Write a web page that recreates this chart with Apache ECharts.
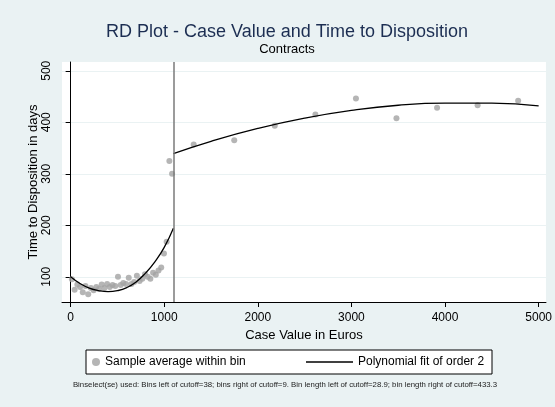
<!DOCTYPE html>
<html>
<head>
<meta charset="utf-8">
<script src="https://cdn.jsdelivr.net/npm/echarts@6/dist/echarts.min.js"></script>
<style>
  html, body { margin: 0; padding: 0; background: #eaf2f3; }
  #chart { width: 555px; height: 407px; }
</style>
</head>
<body>
<div id="chart"></div>
<script>
// bin averages left of the cutoff
const leftX = [14, 43, 72, 101, 130, 159, 188, 217, 246, 275, 303, 332, 361, 390, 419, 448, 477, 506, 535,
  563, 592, 621, 650, 679, 708, 737, 766, 795, 823, 852, 881, 910, 939, 968, 997, 1026, 1055, 1084];
const leftY = [95, 75, 85, 80, 70, 82, 66, 78, 74, 80, 76, 85, 78, 86, 80, 84, 82, 100, 84,
  88, 86, 98, 86, 90, 102, 92, 96, 105, 100, 96, 108, 104, 112, 118, 145, 168, 325, 300];

// bin averages right of the cutoff
const rightX = [1315, 1748, 2181, 2615, 3048, 3481, 3915, 4348, 4781];
const rightY = [357, 365, 393, 415, 446, 408, 428, 433, 442];

// polynomial fit
const fitLeftX = [0, 100, 200, 300, 400, 500, 600, 700, 800, 900, 1000, 1098];
const fitLeftY = [100, 87, 78, 73, 71, 73, 79, 90, 107, 129, 157, 194];
const fitRightX = [1098, 1500, 2000, 2500, 3000, 3500, 4000, 4500, 5000];
const fitRightY = [339, 363, 388, 408, 423, 433, 437, 437, 432];

const cutoff = 1098;
const xTicks = [0, 1000, 2000, 3000, 4000, 5000];
const yTicks = [100, 200, 300, 400, 500];

const pts = (xs, ys) => xs.map((x, i) => [x, ys[i]]);

const chart = echarts.init(document.getElementById('chart'), null, { renderer: 'canvas' });

const dotColor = '#a3a3a3';
const font = 'Liberation Sans';

const option = {
  animation: false,
  backgroundColor: '#eaf2f3',
  textStyle: { fontFamily: font },
  title: [
    {
      text: 'RD Plot - Case Value and Time to Disposition',
      left: 287, top: 23, padding: 0, textAlign: 'center',
      textStyle: { fontSize: 18, fontWeight: 'normal', color: '#1c2e52', fontFamily: font }
    },
    {
      text: 'Contracts',
      left: 287, top: 43, padding: 0, textAlign: 'center',
      textStyle: { fontSize: 13, fontWeight: 'normal', color: '#000', fontFamily: font }
    },
    {
      text: 'Binselect(se) used: Bins left of cutoff=38; bins right of cutoff=9. Bin length left of cutoff=28.9; bin length right of cutoff=433.3',
      left: 285, top: 381, padding: 0, textAlign: 'center',
      textStyle: { fontSize: 7.8, fontWeight: 'normal', color: '#222', fontFamily: font }
    }
  ],
  graphic: [
    {
      type: 'rect',
      shape: { x: 86, y: 350, width: 406, height: 24 },
      style: { fill: '#fff', stroke: '#000', lineWidth: 1 },
      z: 0
    }
  ],
  legend: [
    {
      data: ['Sample average within bin'],
      left: 92, top: 356,
      padding: 0,
      icon: 'circle',
      itemWidth: 8, itemHeight: 8, itemTextGap: 7,
      textStyle: { fontSize: 12, color: '#000', fontFamily: font }
    },
    {
      data: [{ name: 'Polynomial fit of order 2', icon: 'rect' }],
      left: 306, top: 356,
      padding: 0,
      itemWidth: 47, itemHeight: 1.3, itemTextGap: 9,
      textStyle: { fontSize: 12, color: '#000', fontFamily: font }
    }
  ],
  grid: {
    left: 62, right: 7, top: 62, bottom: 105,
    show: true, backgroundColor: '#fff', borderWidth: 0
  },
  xAxis: {
    type: 'value',
    min: -92, max: 5078,
    name: 'Case Value in Euros',
    nameLocation: 'middle',
    nameGap: 26,
    nameTextStyle: { fontSize: 13, color: '#000' },
    axisLine: { show: true, lineStyle: { color: '#000', width: 1 } },
    axisTick: { show: true, length: 5, customValues: xTicks, lineStyle: { color: '#000' } },
    axisLabel: { customValues: xTicks, margin: 10, fontSize: 12, color: '#000', formatter: v => String(v) },
    splitLine: { show: false }
  },
  yAxis: {
    type: 'value',
    min: 51, max: 517,
    name: 'Time to Disposition in days',
    nameLocation: 'middle',
    nameGap: 22,
    nameMoveOverlap: false,
    nameRotate: 90,
    nameTextStyle: { fontSize: 13, color: '#000' },
    axisLine: { show: true, lineStyle: { color: '#000', width: 1 } },
    axisTick: { show: true, length: 5, customValues: yTicks, lineStyle: { color: '#000' } },
    axisLabel: { customValues: yTicks, rotate: 90, margin: 9, fontSize: 12, color: '#000' },
    splitLine: { show: true, lineStyle: { color: '#eaf2f3', width: 1 } }
  },
  series: [
    {
      name: 'Sample average within bin',
      type: 'scatter',
      data: pts(leftX, leftY).concat(pts(rightX, rightY)),
      symbolSize: 6,
      itemStyle: { color: dotColor }
    },
    {
      name: 'Polynomial fit of order 2',
      type: 'line',
      data: pts(fitLeftX, fitLeftY),
      smooth: true,
      symbol: 'none',
      lineStyle: { color: '#000', width: 1.3 },
      itemStyle: { color: '#000' }
    },
    {
      name: 'Polynomial fit of order 2',
      type: 'line',
      data: pts(fitRightX, fitRightY),
      smooth: true,
      symbol: 'none',
      lineStyle: { color: '#000', width: 1.3 },
      itemStyle: { color: '#000' },
      markLine: {
        silent: true,
        symbol: ['none', 'none'],
        label: { show: false },
        lineStyle: { color: '#7a7a7a', width: 1.5, type: 'solid' },
        data: [{ xAxis: cutoff }]
      }
    }
  ]
};

chart.setOption(option);
</script>
</body>
</html>
